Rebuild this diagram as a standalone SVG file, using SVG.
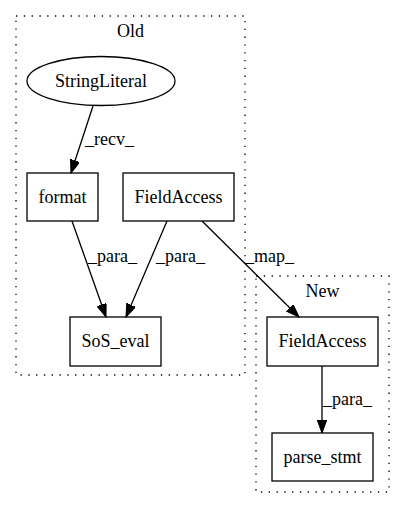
<svg xmlns="http://www.w3.org/2000/svg" width="405" height="508" viewBox="0 0 405 508">
<defs>
<marker id="ah" markerWidth="14" markerHeight="10" refX="13" refY="4.75" orient="auto" markerUnits="userSpaceOnUse">
<polygon points="0,0 13,4.75 0,9.5" fill="#000" stroke="#000" stroke-width="1"/>
</marker>
</defs>
<style>
text{font-family:"Liberation Serif","Times New Roman",serif;font-size:18px;fill:#000}
.cl{fill:none;stroke:#000;stroke-width:1.3;stroke-dasharray:1.3,6.5}
.nd{fill:none;stroke:#000;stroke-width:1.3}
.ed{fill:none;stroke:#000;stroke-width:1.3;marker-end:url(#ah)}
</style>
<rect width="405" height="508" fill="#fff"/>
<g id="cluster_old">
<rect class="cl" x="16" y="16" width="229" height="359"/>
<text x="130.5" y="37" text-anchor="middle">Old</text>
</g>
<g id="cluster_new">
<rect class="cl" x="256" y="276" width="133" height="216"/>
<text x="322.5" y="297" text-anchor="middle">New</text>
</g>
<g id="edges">
<path class="ed" d="M93,106 L71,173"/>
<text x="85" y="145">_recv_</text>
<path class="ed" d="M72,221 L106,317"/>
<text x="88" y="262">_para_</text>
<path class="ed" d="M167,221 L126,317"/>
<text x="156" y="262">_para_</text>
<path class="ed" d="M202,221 L299,317"/>
<text x="245" y="262">_map_</text>
<path class="ed" d="M322,366 L322,433"/>
<text x="323" y="405">_para_</text>
</g>
<g id="StringLiteral">
<ellipse class="nd" cx="101" cy="81" rx="74" ry="24.5"/>
<text x="101" y="87" text-anchor="middle">StringLiteral</text>
</g>
<g id="format">
<rect class="nd" x="27" y="173" width="71" height="48"/>
<text x="62.5" y="203" text-anchor="middle">format</text>
</g>
<g id="FieldAccess_old">
<rect class="nd" x="123" y="173" width="111" height="48"/>
<text x="178.5" y="203" text-anchor="middle">FieldAccess</text>
</g>
<g id="SoS_eval">
<rect class="nd" x="70" y="317" width="91" height="49"/>
<text x="115.5" y="347" text-anchor="middle">SoS_eval</text>
</g>
<g id="FieldAccess_new">
<rect class="nd" x="267" y="317" width="111" height="49"/>
<text x="322.5" y="347" text-anchor="middle">FieldAccess</text>
</g>
<g id="parse_stmt">
<rect class="nd" x="272" y="433" width="101" height="48"/>
<text x="322.5" y="463" text-anchor="middle">parse_stmt</text>
</g>
</svg>
